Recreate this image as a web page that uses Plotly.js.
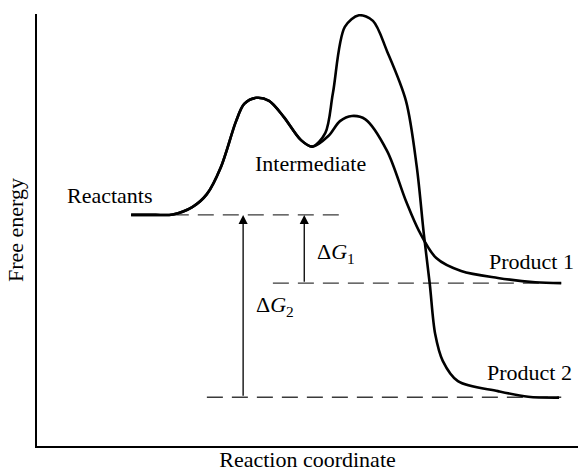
<!DOCTYPE html>
<html>
<head>
<meta charset="utf-8">
<script src="https://cdn.plot.ly/plotly-3.0.1.min.js"></script>
<style>
  html, body { margin: 0; padding: 0; background: #fff; }
  #chart { width: 578px; height: 473px; }
</style>
</head>
<body>
<div id="chart"></div>
<script>
// ---- data (reaction coordinate 0..100, free energy 0..100) ----
// shared path: reactants -> first barrier -> intermediate
var commonX = [17.4, 21.8, 25.1, 28.7, 31.4, 34.0, 36.8, 38.3, 40.5, 42.9, 45.6, 48.8, 50.9];
var commonG = [53.5, 53.5, 53.6, 55.3, 58.3, 64.6, 75.2, 79.2, 80.6, 79.9, 76.2, 70.8, 69.3];

// path to product 1 (lower second barrier)
var path1X = [53.9, 56.0, 58.2, 60.7, 64.7, 68.2, 70.6, 73.8, 78.4, 85.2, 92.1, 96.9];
var path1G = [71.8, 75.2, 76.4, 75.6, 68.3, 56.7, 49.8, 43.5, 40.5, 38.9, 37.9, 37.7];

// path to product 2 (higher second barrier)
var path2X = [53.3, 54.7, 56.9, 59.5, 62.1, 64.7, 68.2, 70.2, 71.5, 72.6, 73.6, 75.0, 77.8, 85.2, 90.8, 96.5];
var path2G = [72.5, 81.7, 97.0, 99.7, 98.4, 91.4, 79.9, 64.6, 49.1, 37.5, 25.9, 19.7, 15.0, 12.7, 11.4, 11.2];

// energy levels: reactants, product 1, product 2
var levelNames = ["Reactants", "Product 1", "Product 2"];
var levelG     = [53.5, 37.7, 11.3];
var levelStart = [25.1, 43.6, 31.4];
var levelEnd   = [56.0, 96.9, 96.9];

// free-energy differences (arrows from product level up to reactant level)
var deltaNames = ["Δ<i>G</i><sub>1</sub>", "Δ<i>G</i><sub>2</sub>"];
var deltaX     = [49.4, 38.1];
var deltaFrom  = [levelG[1], levelG[2]];
var deltaTo    = [levelG[0], levelG[0]];

var intermediateLabel = "Intermediate";
var xTitle = "Reaction coordinate";
var yTitle = "Free energy";

// ---- build ----
var FONT = "Liberation Serif, Times New Roman, serif";
var traces = [];

for (var i = 0; i < levelG.length; i++) {
  traces.push({
    x: [levelStart[i], levelEnd[i]],
    y: [levelG[i], levelG[i]],
    mode: "lines",
    line: {color: "#3a3a3a", width: 1.4, dash: "16px,9px"},
    hoverinfo: "skip"
  });
}

function curve(xs, ys) {
  return {
    x: xs, y: ys, mode: "lines",
    line: {color: "#000", width: 2.6, shape: "spline", smoothing: 0.9},
    hoverinfo: "skip"
  };
}
traces.push(curve(commonX.concat(path1X), commonG.concat(path1G)));
traces.push(curve(commonX.concat(path2X), commonG.concat(path2G)));

var annotations = [];
for (var j = 0; j < deltaX.length; j++) {
  annotations.push({
    x: deltaX[j], y: deltaTo[j], ax: deltaX[j], ay: deltaFrom[j],
    xref: "x", yref: "y", axref: "x", ayref: "y",
    text: "", showarrow: true, arrowhead: 2, arrowsize: 1.4, arrowwidth: 1.3,
    arrowcolor: "#000", standoff: 0, startstandoff: 0
  });
}

var txt = function (text, x, y, xanchor) {
  return {text: text, x: x, y: y, xref: "x", yref: "y", showarrow: false,
          xanchor: xanchor, yanchor: "middle",
          font: {family: FONT, size: 22, color: "#000"}};
};
annotations.push(txt(levelNames[0], 13.5, 57.9, "center"));
annotations.push(txt(intermediateLabel, 50.6, 65.3, "center"));
annotations.push(txt(levelNames[1], 83.2, 42.8, "left"));
annotations.push(txt(levelNames[2], 82.8, 16.9, "left"));
annotations.push(txt(deltaNames[0], 51.4, 44.7, "left"));
annotations.push(txt(deltaNames[1], 40.1, 32.4, "left"));

var layout = {
  width: 578, height: 473,
  margin: {l: 37, r: 0, t: 14, b: 27},
  paper_bgcolor: "#fff", plot_bgcolor: "#fff",
  showlegend: false,
  xaxis: {
    range: [0, 100], showgrid: false, zeroline: false, showticklabels: false, ticks: "",
    showline: true, linecolor: "#000", linewidth: 2.4,
    title: {text: xTitle, font: {family: FONT, size: 22, color: "#000"}, standoff: 4}
  },
  yaxis: {
    range: [0, 100], showgrid: false, zeroline: false, showticklabels: false, ticks: "",
    showline: true, linecolor: "#000", linewidth: 1.6,
    title: {text: yTitle, font: {family: FONT, size: 22, color: "#000"}, standoff: 6}
  },
  annotations: annotations
};

Plotly.newPlot("chart", traces, layout, {staticPlot: true, displayModeBar: false});
</script>
</body>
</html>
